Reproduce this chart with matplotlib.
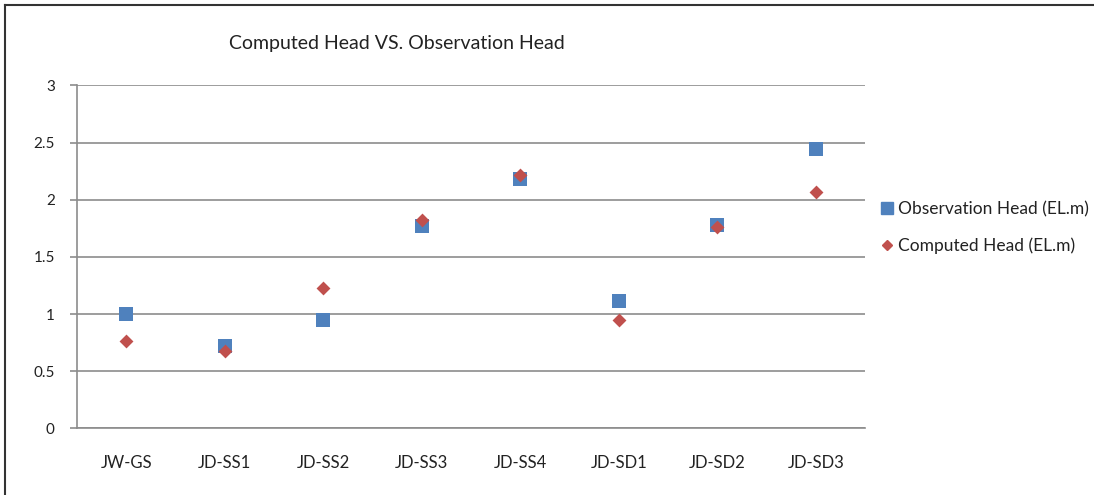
import numpy as np
import matplotlib.pyplot as plt
from matplotlib.lines import Line2D

plt.rcParams['font.family'] = ['Lato', 'DejaVu Sans']

wells = ['JW-GS', 'JD-SS1', 'JD-SS2', 'JD-SS3', 'JD-SS4', 'JD-SD1', 'JD-SD2', 'JD-SD3']
observed = [1.00, 0.72, 0.95, 1.77, 2.18, 1.11, 1.78, 2.44]
computed = [0.76, 0.68, 1.23, 1.82, 2.22, 0.95, 1.76, 2.07]

blue = '#4F81BD'
red = '#C0504D'
grid_c = '#8C8C8C'

fig = plt.figure(figsize=(10.94, 4.95), dpi=100)
ax = fig.add_axes([0.0704, 0.1347, 0.7203, 0.6926])

x = np.arange(len(wells))
ax.scatter(x, observed, marker='s', s=95, color=blue, zorder=3, linewidths=0)
ax.scatter(x, computed, marker='D', s=50, color=red, zorder=4, linewidths=0)

ax.set_xlim(-0.5, len(wells) - 0.5)
ax.set_ylim(0, 3)
ax.set_yticks(np.arange(0, 3.01, 0.5))
ax.set_yticklabels(['0', '0.5', '1', '1.5', '2', '2.5', '3'])
ax.set_xticks(x)
ax.set_xticklabels(wells)

ax.yaxis.grid(True, color=grid_c, linewidth=1.2)
ax.set_axisbelow(True)
for side in ['top', 'right']:
    ax.spines[side].set_visible(False)
for side in ['left', 'bottom']:
    ax.spines[side].set_color(grid_c)
    ax.spines[side].set_linewidth(1.2)
ax.tick_params(axis='y', length=5, width=1.2, color=grid_c, pad=11, labelsize=11, labelcolor='#222222')
ax.tick_params(axis='x', length=0, pad=19, labelsize=12, labelcolor='#222222')

fig.text(0.363, 0.912, 'Computed Head VS. Observation Head', ha='center', va='center',
         fontsize=14, color='#222222')

handles = [
    Line2D([], [], marker='s', linestyle='none', color=blue, markersize=8),
    Line2D([], [], marker='D', linestyle='none', color=red, markersize=5.5),
]
fig.legend(handles, ['Observation Head (EL.m)', 'Computed Head (EL.m)'],
           loc='center left', bbox_to_anchor=(0.789, 0.540), frameon=False,
           fontsize=12.5, handletextpad=0.1, handlelength=1.0, labelspacing=1.15,
           labelcolor='#222222')

# thin frame along the left and top edges
fig.add_artist(Line2D([0.0045, 0.0045], [0, 0.989], color='#333333', linewidth=1.5,
                      transform=fig.transFigure))
fig.add_artist(Line2D([0.0045, 1.0], [0.989, 0.989], color='#333333', linewidth=1.5,
                      transform=fig.transFigure))

fig.savefig('out.png', dpi=100)
